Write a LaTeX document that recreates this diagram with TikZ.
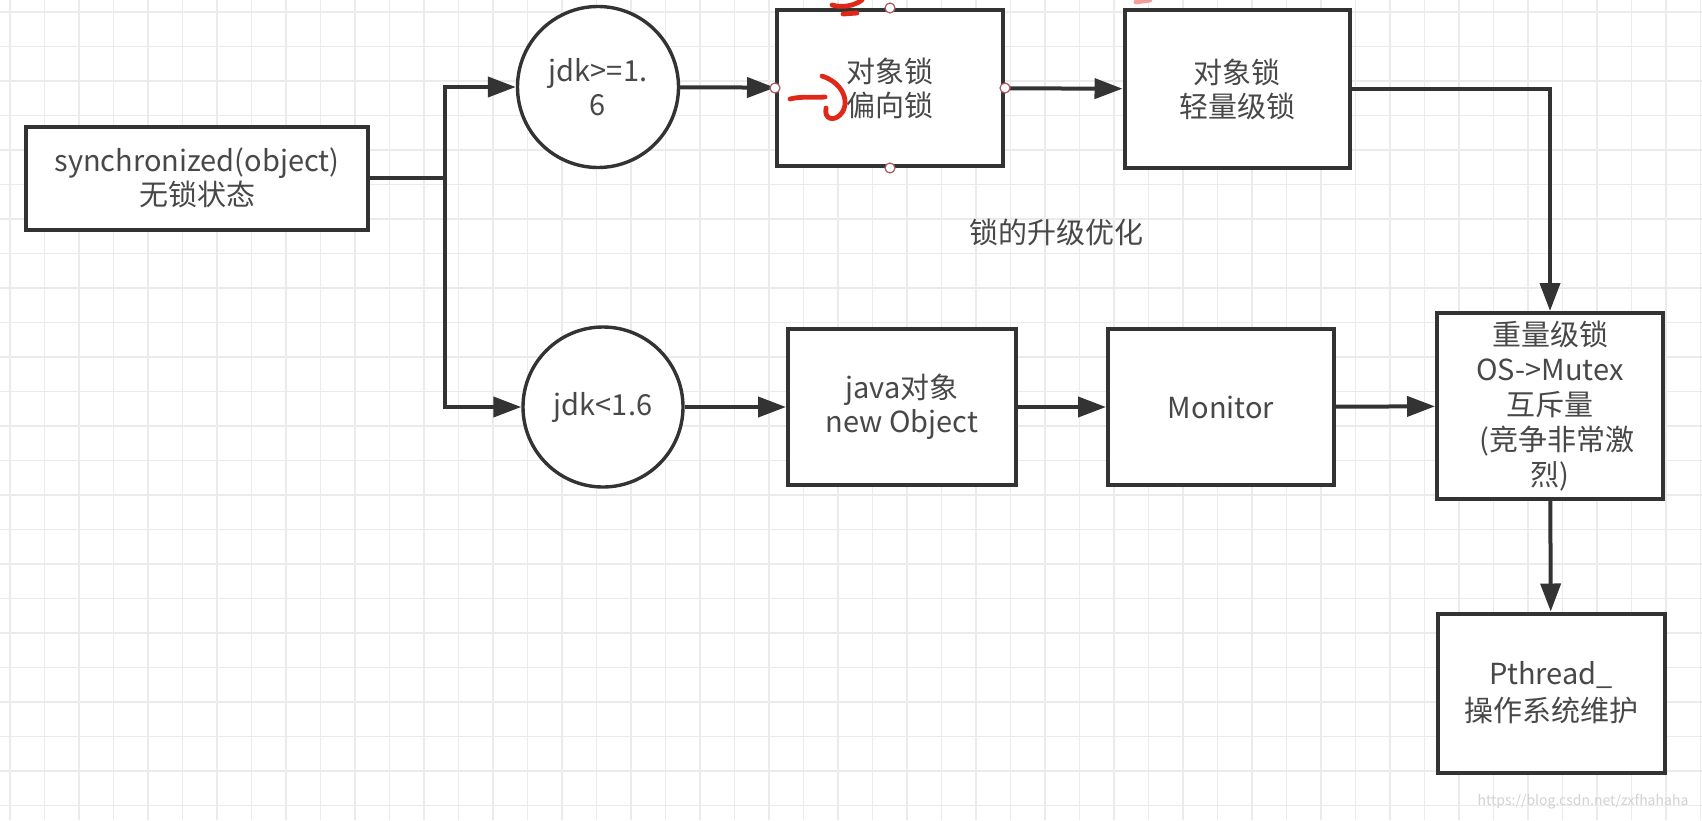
\documentclass[tikz,border=0pt]{standalone}
\usepackage{fontspec}
\setmainfont{Noto Sans CJK SC}
\usetikzlibrary{arrows.meta}
\definecolor{linec}{HTML}{333333}
\definecolor{txtc}{HTML}{484848}
\definecolor{gridc}{HTML}{EBEBEB}
\definecolor{pen}{HTML}{E0281A}
\definecolor{handlec}{HTML}{A85A66}
\tikzset{
	lockbox/.style={draw=linec, line width=2pt, fill=white, text=txtc, align=center,
		minimum width=113pt, minimum height=78pt, inner sep=2pt,
		font=\fontsize{14.5pt}{17pt}\selectfont},
	jdkcircle/.style={draw=linec, line width=1.7pt, fill=white, circle, text=txtc, align=center,
		minimum size=80pt, inner sep=0pt, font=\fontsize{14.5pt}{17pt}\selectfont},
	arr/.style={draw=linec, line width=2pt, -{Triangle[length=14pt,width=10pt]}},
	plain/.style={draw=linec, line width=2pt},
	handle/.style={circle, draw=handlec, fill=white, line width=0.6pt, inner sep=0pt, minimum size=5pt},
	redpen/.style={draw=pen, line width=2.4pt, line cap=round}
}
\begin{document}
\begin{tikzpicture}[x=0.5pt, y=-0.5pt]
				\useasboundingbox (0,0) rectangle (1702,820);
				\fill[white] (0,0) rectangle (1702,820);
				\foreach \i in {0,...,49} {\draw[gridc, line width=0.6pt] ({10+34.5*\i},0) -- ({10+34.5*\i},820);}
				\foreach \j in {0,...,23} {\draw[gridc, line width=0.6pt] (0,{12+34.5*\j}) -- (1702,{12+34.5*\j});}

				\node[lockbox, minimum width=171pt, minimum height=51.5pt] (sync) at (197,178) {synchronized(object)\\无锁状态};
				\node[jdkcircle, minimum size=80.5pt] (jdknew) at (598,87) {jdk>=1.\\6};
				\node[lockbox] (biased) at (890,88) {对象锁\\偏向锁};
				\node[lockbox, minimum width=112.5pt, minimum height=79pt] (light) at (1237,89) {对象锁\\轻量级锁};
				\node[jdkcircle] (jdkold) at (603,407) {jdk<1.6};
				\node[lockbox, minimum width=114pt] (javaobj) at (902,407) {java对象\\new Object};
				\node[lockbox] (monitor) at (1221,407) {Monitor};
				\node[lockbox, minimum height=93pt, font=\fontsize{14.5pt}{17.5pt}\selectfont] (heavy) at (1550,406) {重量级锁\\OS->Mutex\\互斥量\\\hspace*{0.5em}(竞争非常激\\烈)};
				\node[lockbox, minimum width=113.5pt, minimum height=79.5pt, font=\fontsize{14.5pt}{18.5pt}\selectfont] (pthread) at (1551,693) {Pthread\_\\操作系统维护};
				\node[text=txtc, font=\fontsize{14.5pt}{17pt}\selectfont] (upgrade) at (1056,232) {锁的升级优化};
				\node[text=gray!35, font=\fontsize{7pt}{8pt}\selectfont] (mark) at (1583,802) {https://blog.csdn.net/zxfhahaha};

				\coordinate (split) at (445,178);
				\draw[plain] (sync) -- (split);
				\draw[arr] (split) |- (jdknew);
				\draw[arr] (split) |- (jdkold);
				\draw[arr] (jdknew) -- (biased);
				\draw[arr] (biased) -- (light);
				\draw[arr] (light) -| (heavy);
				\draw[arr] (jdkold) -- (javaobj);
				\draw[arr] (javaobj) -- (monitor);
				\draw[arr] (monitor) -- (heavy);
				\draw[arr] (heavy) -- (pthread);

				\node[handle] (hn) at (biased.north) {};
				\node[handle] (hw) at (biased.west) {};
				\node[handle] (he) at (biased.east) {};
				\node[handle] (hs) at (biased.south) {};

				\draw[redpen] (790,99) .. controls (802,96) and (812,98) .. (825,97);
				\draw[redpen] (822,76) .. controls (846,84) and (850,106) .. (840,115) .. controls (834,121) and (824,120) .. (826,108);
				\draw[redpen] (832,5) .. controls (842,8) and (854,6) .. (862,0);
				\draw[redpen] (843,14) -- (857,13);
				\draw[redpen, draw=pen!45] (1136,2) -- (1150,0);
			\end{tikzpicture}
\end{document}
